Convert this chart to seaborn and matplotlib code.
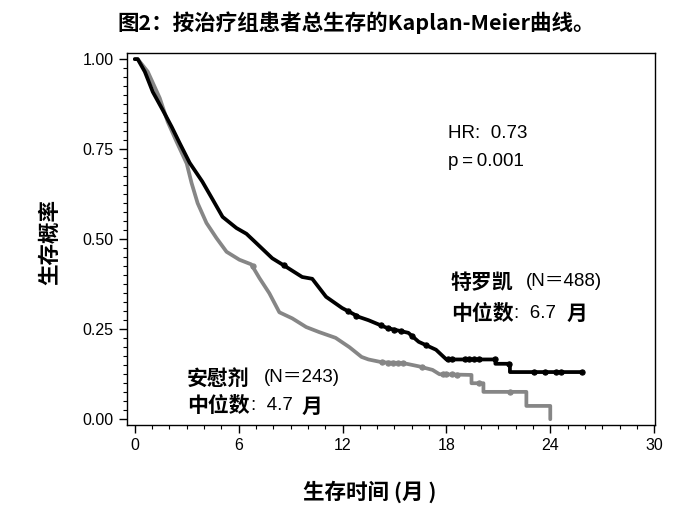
import numpy as np
import pandas as pd
import seaborn as sns
import matplotlib.pyplot as plt

# Kaplan-Meier curve vertices (months, survival probability)
tarceva_t = [0, 0.17, 0.58, 1.04, 1.61, 2.13, 2.59, 3.17, 3.9, 4.5, 5.07, 5.87, 6.45, 7.0,
             7.94, 8.75, 9.67, 10.25, 11.05, 11.97, 12.95, 13.5, 14.6, 15.8, 16.4, 17.4,
             18.0, 20.83, 20.83, 21.67, 21.67, 25.84]
tarceva_s = [1.0, 1.0, 0.965, 0.909, 0.859, 0.812, 0.767, 0.712, 0.66, 0.61, 0.562, 0.531,
             0.515, 0.49, 0.447, 0.423, 0.395, 0.39, 0.34, 0.309, 0.284, 0.275, 0.253, 0.24,
             0.215, 0.193, 0.166, 0.166, 0.154, 0.154, 0.131, 0.131]
placebo_t = [0, 0.17, 0.75, 1.44, 1.9, 2.42, 3.0, 3.28, 3.63, 4.14, 4.72, 5.3, 6.04, 6.73,
             7.2, 7.77, 8.35, 9.1, 9.9, 10.65, 11.6, 12.4, 13.1, 13.5, 14.3, 15.5, 16.4,
             17.2, 17.6, 19.45, 19.45, 20.14, 20.14, 22.62, 22.62, 24.0, 24.0]
placebo_s = [1.0, 1.0, 0.965, 0.892, 0.826, 0.77, 0.71, 0.656, 0.6, 0.545, 0.503, 0.465,
             0.443, 0.43, 0.392, 0.35, 0.297, 0.28, 0.256, 0.242, 0.226, 0.2, 0.173, 0.166,
             0.158, 0.156, 0.147, 0.137, 0.125, 0.123, 0.10, 0.10, 0.076, 0.076, 0.037,
             0.037, 0.0]

# censoring times (months)
tarceva_cens = [8.6, 12.3, 12.8, 14.2, 14.6, 15.0, 15.4, 16.0, 16.8, 18.1, 18.3, 19.1, 19.3,
                19.6, 19.9, 20.8, 21.6, 23.08, 23.71, 24.35, 24.63, 25.84]
placebo_cens = [6.8, 14.3, 14.6, 14.9, 15.2, 15.5, 16.6, 17.8, 18.0, 18.3, 18.6, 19.86, 21.7]

x_ticks = [0, 6, 12, 18, 24, 30]
y_ticks = [0.0, 0.25, 0.5, 0.75, 1.0]

sns.set_style("ticks")
plt.rcParams['font.family'] = ['Liberation Sans', 'Noto Sans CJK SC', 'DejaVu Sans']
plt.rcParams['text.color'] = 'black'
plt.rcParams['xtick.color'] = 'black'
plt.rcParams['ytick.color'] = 'black'

W, H = 688, 518
fig = plt.figure(figsize=(W / 100, H / 100), dpi=100)
ax = fig.add_axes([127 / W, 1 - 425 / H, (655 - 127) / W, (425 - 53) / H])


def px(x, y):
    return x / W, 1 - y / H


curves = [(tarceva_t, tarceva_s, tarceva_cens, "#000000"),
          (placebo_t, placebo_s, placebo_cens, "#868686")]
for t, s, cens, col in curves[::-1]:
    df = pd.DataFrame({"t": t, "s": s})
    sns.lineplot(data=df, x="t", y="s", sort=False, estimator=None, color=col,
                 linewidth=2.7, ax=ax)
    cs = np.interp(cens, t, s)
    sns.scatterplot(x=cens, y=cs, ax=ax, color=col, edgecolor=col, s=14,
                    marker="o", linewidth=0.8, zorder=3)

ax.set_xlim(-0.45, 30.05)
ax.set_ylim(-0.016, 1.017)
ax.set_xticks(x_ticks)
ax.set_xticks(np.arange(0, 31, 1), minor=True)
ax.set_yticks(y_ticks)
ax.set_yticks(np.arange(0, 1.001, 0.025), minor=True)
ax.set_yticklabels([f"{v:.2f}" for v in y_ticks])
ax.set_xticklabels([str(v) for v in x_ticks])
ax.tick_params(which="major", length=6, width=1, labelsize=11.5, color="black",
               labelcolor="black")
ax.tick_params(which="minor", length=3, width=0.8, color="black")
ax.set_xlabel("")
ax.set_ylabel("")
for sp in ax.spines.values():
    sp.set_visible(True)
    sp.set_linewidth(1)
    sp.set_color("black")

cjk = ['Noto Sans CJK SC', 'DejaVu Sans']
fig.text(*px(356, 23), "图2：按治疗组患者总生存的Kaplan-Meier曲线。", ha="center", va="center",
         fontsize=15.5, fontweight="bold", family=cjk)
fig.text(*px(50, 242), "生存概率", rotation=90, ha="center", va="center",
         fontsize=15.5, fontweight="bold", family=cjk)
fig.text(*px(370, 492), "生存时间 (月 )", ha="center", va="center",
         fontsize=15.5, fontweight="bold", family=cjk)

fig.text(*px(448, 133), "HR:  0.73", ha="left", va="center", fontsize=13.5)
fig.text(*px(448, 162), "p\u2009=\u20090.001", ha="left", va="center", fontsize=13.5)

fig.text(*px(451, 282), "特罗凯", ha="left", va="center", fontsize=15,
         fontweight="bold", family=cjk)
fig.text(*px(526, 282), "(N＝488)", ha="left", va="center", fontsize=13.5)
fig.text(*px(451, 313), "中位数", ha="left", va="center", fontsize=15,
         fontweight="bold", family=cjk)
fig.text(*px(514, 313), ":  6.7", ha="left", va="center", fontsize=13.5)
fig.text(*px(567, 313), "月", ha="left", va="center", fontsize=15,
         fontweight="bold", family=cjk)

fig.text(*px(187, 378), "安慰剂", ha="left", va="center", fontsize=15,
         fontweight="bold", family=cjk)
fig.text(*px(264, 378), "(N＝243)", ha="left", va="center", fontsize=13.5)
fig.text(*px(187, 406), "中位数", ha="left", va="center", fontsize=15,
         fontweight="bold", family=cjk)
fig.text(*px(251, 406), ":  4.7", ha="left", va="center", fontsize=13.5)
fig.text(*px(302, 406), "月", ha="left", va="center", fontsize=15,
         fontweight="bold", family=cjk)

fig.savefig("out.png", dpi=100)
